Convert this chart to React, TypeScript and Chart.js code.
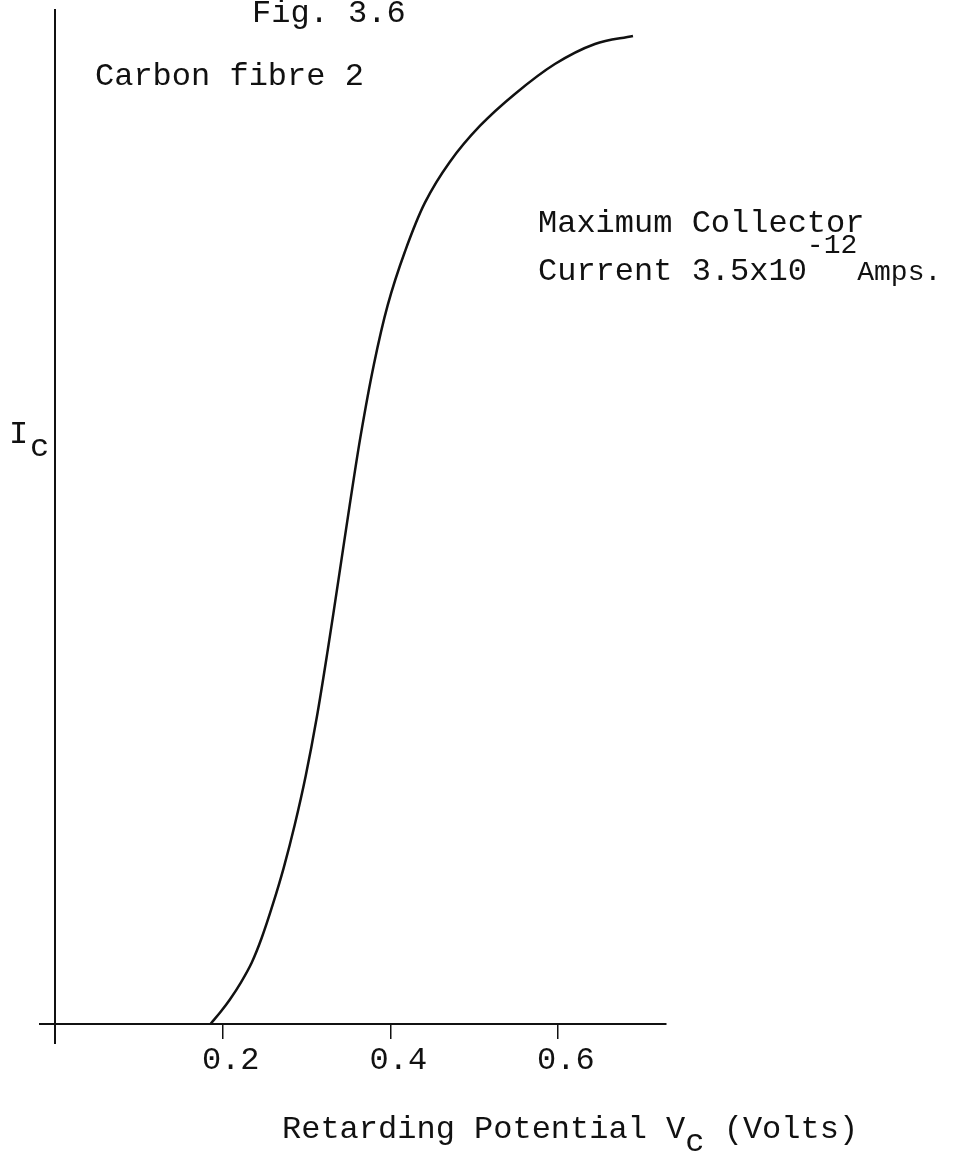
import React, { useEffect, useRef } from 'react';
import { Chart, registerables } from 'chart.js';

Chart.register(...registerables);

// Retarding potential V_c (volts) and relative collector current I_c
const voltage = [0.1857, 0.1976, 0.2084, 0.2215, 0.2346, 0.2466, 0.2597, 0.2728, 0.2860, 0.2991, 0.3122, 0.3254, 0.3385, 0.3516, 0.3648, 0.3803, 0.3970, 0.4173, 0.4412, 0.4710, 0.5069, 0.5487, 0.5964, 0.6442, 0.6896];
const current = [0.0000, 0.0118, 0.0237, 0.0404, 0.0602, 0.0848, 0.1174, 0.1538, 0.1963, 0.2446, 0.3018, 0.3688, 0.4398, 0.5118, 0.5809, 0.6499, 0.7091, 0.7613, 0.8097, 0.8501, 0.8856, 0.9172, 0.9467, 0.9665, 0.9744];

const tickValues = [0.2, 0.4, 0.6];
const tickLabels = ['0.2', '0.4', '0.6'];

const figTitle = 'Fig. 3.6';
const sampleLabel = 'Carbon fibre 2';
const noteLine1 = 'Maximum Collector';
const noteLine2 = 'Current 3.5x10';
const noteExp = '-12';
const noteUnit = 'Amps.';
const xTitleMain = 'Retarding Potential V';
const xTitleSub = 'c';
const xTitleTail = ' (Volts)';
const yTitleMain = 'I';
const yTitleSub = 'c';

const FONT = '"Liberation Mono", "DejaVu Sans Mono", monospace';
const INK = '#111';

const textPlugin = {
  id: 'typedText',
  afterDraw(chart: any) {
    const ctx = chart.ctx as CanvasRenderingContext2D;
    ctx.save();
    ctx.fillStyle = INK;
    ctx.textBaseline = 'alphabetic';
    ctx.textAlign = 'left';
    const f = (s: number) => `${s}px ${FONT}`;
    ctx.font = f(32);
    ctx.fillText(figTitle, 252, 22);
    ctx.fillText(sampleLabel, 95, 85);
    ctx.fillText(noteLine1, 538, 232);
    ctx.fillText(noteLine2, 538, 280);
    let x = 538 + ctx.measureText(noteLine2).width;
    ctx.font = f(28);
    ctx.fillText(noteExp, x, 253);
    x += ctx.measureText(noteExp).width;
    ctx.fillText(noteUnit, x, 280);
    // y title
    ctx.font = f(32);
    ctx.fillText(yTitleMain, 9, 443);
    ctx.fillText(yTitleSub, 30, 456);
    // x title
    ctx.fillText(xTitleMain, 282, 1138);
    let tx = 282 + ctx.measureText(xTitleMain).width;
    ctx.fillText(xTitleSub, tx, 1151);
    tx += ctx.measureText(xTitleSub).width;
    ctx.fillText(xTitleTail, tx, 1138);
    ctx.restore();
  },
};

export default function App() {
  const ref = useRef<HTMLCanvasElement | null>(null);

  useEffect(() => {
    document.body.style.margin = '0';
    const canvas = ref.current;
    if (!canvas) return;
    const chart = new Chart(canvas, {
      type: 'line',
      data: {
        datasets: [
          {
            data: voltage.map((v, i) => ({ x: v, y: current[i] })),
            borderColor: INK,
            borderWidth: 2.5,
            pointRadius: 0,
            fill: false,
            tension: 0.35,
          },
        ],
      },
      options: {
        responsive: false,
        animation: false,
        layout: { padding: { left: 40, right: 307, top: 10, bottom: 115 } },
        plugins: { legend: { display: false }, tooltip: { enabled: false } },
        scales: {
          x: {
            type: 'linear',
            min: -0.018,
            max: 0.729,
            position: { y: 0 } as any,
            afterBuildTicks: (s: any) => {
              s.ticks = tickValues.map((v) => ({ value: v }));
            },
            ticks: {
              autoSkip: false,
              maxRotation: 0,
              padding: 4,
              labelOffset: 8,
              color: INK,
              font: { family: FONT, size: 32 },
              callback: (v: any) => {
                const i = tickValues.findIndex((t) => Math.abs(t - Number(v)) < 1e-9);
                return i >= 0 ? tickLabels[i] : '';
              },
            },
            grid: { display: true, drawOnChartArea: false, drawTicks: true, tickLength: 14, color: INK, lineWidth: 1.5 },
            border: { display: true, color: INK, width: 2 },
          },
          y: {
            type: 'linear',
            min: -0.019,
            max: 1.0,
            position: { x: 0 } as any,
            ticks: { display: false },
            grid: { display: false },
            border: { display: true, color: INK, width: 2 },
          },
        },
      },
      plugins: [textPlugin],
    } as any);
    return () => chart.destroy();
  }, []);

  return (
    <div style={{ width: 973, height: 1158, background: '#fff' }}>
      <canvas ref={ref} width={973} height={1158} style={{ display: 'block' }} />
    </div>
  );
}
